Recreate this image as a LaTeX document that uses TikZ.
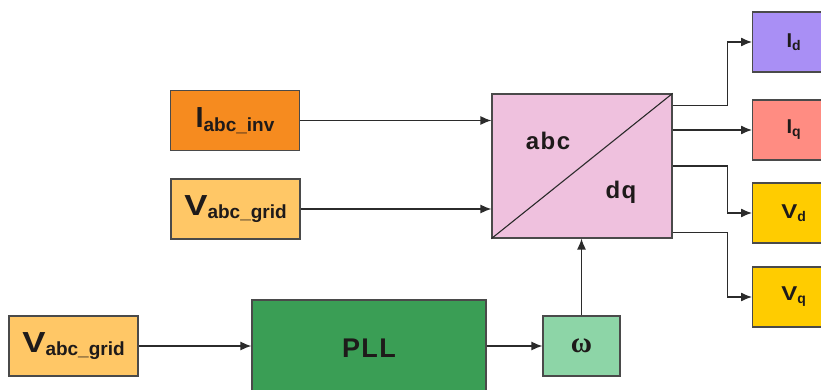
\documentclass[tikz,border=0pt]{standalone}
\usepackage{fontspec}
\setmainfont{Liberation Sans}
\newfontfamily\grkfont{Liberation Serif}
\usepackage{xcolor}
\usetikzlibrary{arrows.meta,calc,positioning}
\definecolor{edgeline}{HTML}{2B2B2B}
\definecolor{boxline}{HTML}{4A4A4A}
\definecolor{invfill}{HTML}{F68B1F}
\definecolor{gridfill}{HTML}{FFC766}
\definecolor{convfill}{HTML}{EFC1DE}
\definecolor{idfill}{HTML}{A98FF5}
\definecolor{iqfill}{HTML}{FF8C82}
\definecolor{vfill}{HTML}{FFCC00}
\definecolor{pllfill}{HTML}{3A9E55}
\definecolor{omegafill}{HTML}{8DD5A7}
\definecolor{labeltext}{HTML}{1E1A1A}
\tikzset{
  block/.style={
    draw=boxline,
    line width=1.2pt,
    align=center,
    text=labeltext,
    inner sep=0pt
  },
  inbox/.style={block, minimum width=129pt, minimum height=60pt},
  outbox/.style={block, anchor=west, minimum width=82pt, minimum height=60pt, text width=78pt},
  flow/.style={line width=1.3pt, draw=edgeline, -{Latex[length=11pt, width=9pt]}},
  convtext/.style={font=\fontsize{24}{25}\selectfont\bfseries\addfontfeature{LetterSpace=6}, text=labeltext, inner sep=0pt}
}
\newcommand{\biglabel}[2]{%
  {\fontsize{29}{30}\selectfont\bfseries #1}\raisebox{-3.5pt}{\fontsize{19}{20}\selectfont\bfseries #2}}
\newcommand{\smalllabel}[2]{%
  {\fontsize{20}{21}\selectfont\bfseries #1}\raisebox{-3pt}{\fontsize{14}{15}\selectfont\bfseries #2}}
\newcommand{\wideV}{\scalebox{1.2}[1]{V}}

\begin{document}
\begin{tikzpicture}[x=1pt,y=-1pt]
\useasboundingbox (0,0) rectangle (821,390);
\clip (0,0) rectangle (821,390);
\fill[white] (0,0) rectangle (821,390);

% input signals
\node[inbox, fill=invfill] (iinv) at (235,120.5) {\biglabel{I}{abc\_inv}};
\node[inbox, fill=gridfill] (vgrid) at (235.5,209) {\biglabel{\wideV}{abc\_grid}};
\node[inbox, fill=gridfill] (vpll) at (73.5,346) {\biglabel{\wideV}{abc\_grid}};

% transformation block
\node[block, fill=convfill, minimum width=180pt, minimum height=144pt] (conv) at (582,166) {};
\draw[line width=1.1pt, draw=edgeline] (conv.south west) -- (conv.north east);
\node[convtext] (abc) at (548,141) {abc};
\node[convtext] (dq) at (621,192) {dq};

% pll and frequency
\node[block, fill=pllfill, minimum width=234pt, minimum height=96pt] (pll) at (369,348) {\fontsize{27}{28}\selectfont\bfseries\addfontfeature{LetterSpace=5}PLL};
\node[block, fill=omegafill, minimum width=77pt, minimum height=60pt] (omega) at (581.5,346) {\fontsize{29}{29}\selectfont\grkfont\bfseries ω};

% outputs
\node[outbox, fill=idfill] (id) at (752,42) {\smalllabel{I}{d}};
\node[outbox, fill=iqfill] (iq) at (752,130) {\smalllabel{I}{q}};
\node[outbox, fill=vfill] (vd) at (752,213) {\smalllabel{\wideV}{d}};
\node[outbox, fill=vfill] (vq) at (752,297) {\smalllabel{\wideV}{q}};

\draw[flow] (iinv.east) -- (iinv.east -| conv.west);
\draw[flow] (vgrid.east) -- (vgrid.east -| conv.west);
\draw[flow] (vpll.east) -- (vpll.east -| pll.west);
\draw[flow] (pll.east |- omega.west) -- (omega.west);
\draw[flow] (omega.north) -- (omega.north |- conv.south);

\draw[flow] ([yshift=-12pt]conv.north east) -- ++(55,0) |- (id.west);
\draw[flow] (conv.east |- iq.west) -- (iq.west);
\draw[flow] (conv.east) -- ++(55,0) |- (vd.west);
\draw[flow] ([yshift=6pt]conv.south east) -- ++(55,0) |- (vq.west);

\end{tikzpicture}
\end{document}
